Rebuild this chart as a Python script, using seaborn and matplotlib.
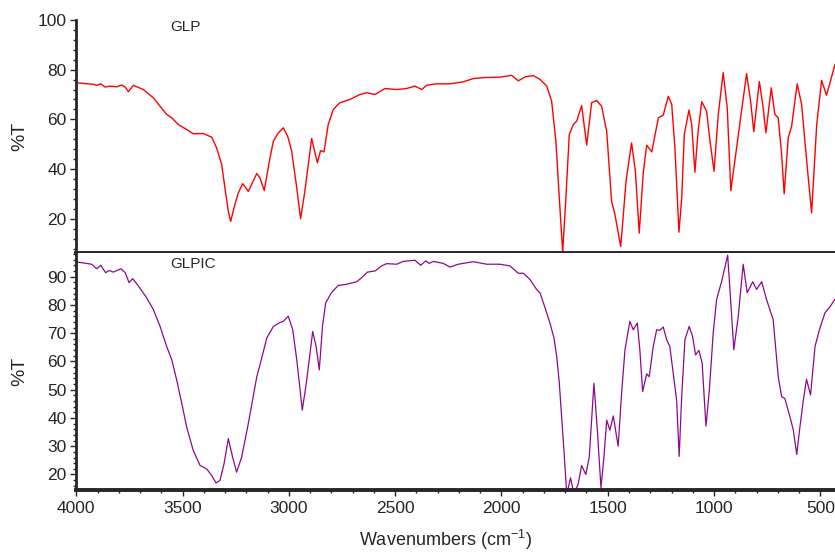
import numpy as np
import pandas as pd
import matplotlib
matplotlib.use('Agg')
import matplotlib.pyplot as plt
from matplotlib.ticker import MultipleLocator
import seaborn as sns

# GLP spectrum (top panel)
glp_wn = [3998, 3920, 3904, 3885, 3865, 3842, 3810, 3786, 3770, 3755, 3732, 3685, 3638, 3606,
          3575, 3551, 3520, 3481, 3450, 3403, 3363, 3340, 3316, 3301, 3285, 3274, 3254, 3238,
          3217, 3191, 3151, 3136, 3116, 3089, 3073, 3050, 3026, 3005, 2987, 2963, 2945, 2925,
          2893, 2866, 2851, 2835, 2815, 2791, 2760, 2713, 2666, 2634, 2595, 2548, 2493, 2446,
          2407, 2375, 2352, 2305, 2242, 2180, 2133, 2086, 2007, 1952, 1921, 1889, 1850, 1819,
          1787, 1764, 1744, 1728, 1712, 1697, 1681, 1662, 1646, 1623, 1599, 1576, 1552, 1529,
          1505, 1482, 1466, 1439, 1414, 1388, 1370, 1352, 1333, 1317, 1293, 1262, 1239, 1215,
          1199, 1184, 1165, 1152, 1140, 1118, 1105, 1090, 1075, 1058, 1035, 1019, 1000, 980,
          957, 938, 921, 894, 847, 828, 813, 787, 771, 756, 731, 714, 698, 682, 670, 651, 635,
          609, 588, 564, 541, 517, 494, 471, 431]
glp_t = [74.7, 74.1, 73.7, 74.3, 73.0, 73.4, 73.1, 73.8, 73.0, 71.1, 73.7, 72.0, 68.7, 65.3,
         62.0, 60.6, 57.9, 55.9, 54.2, 54.3, 52.8, 48.5, 41.8, 32.4, 23.0, 18.9, 25.7, 30.4,
         34.1, 31.0, 38.2, 36.4, 31.3, 44.5, 51.2, 54.5, 56.6, 53.0, 47.2, 32.4, 20.0, 31.0,
         52.3, 42.5, 47.4, 46.9, 57.9, 64.0, 66.7, 68.0, 70.0, 70.7, 70.0, 72.4, 72.0, 72.4,
         73.4, 72.0, 73.7, 74.3, 74.3, 75.1, 76.4, 76.8, 77.0, 77.7, 75.5, 77.1, 77.6, 76.1,
         73.4, 67.3, 51.2, 28.4, 6.6, 28.4, 53.9, 57.9, 59.3, 65.6, 49.6, 66.7, 67.6, 65.3,
         55.2, 27.0, 21.6, 8.8, 35.1, 50.5, 39.1, 14.2, 38.5, 49.6, 46.9, 60.6, 61.7, 69.3,
         66.0, 48.5, 14.6, 28.4, 53.9, 63.7, 57.9, 38.7, 55.2, 67.1, 63.3, 51.2, 39.1, 62.0,
         78.8, 64.7, 31.3, 48.5, 78.4, 67.3, 55.0, 75.2, 66.0, 54.6, 72.7, 62.0, 60.6, 45.8,
         30.0, 52.6, 57.2, 74.3, 66.0, 43.1, 22.3, 57.9, 75.7, 69.7, 82.1]

# GLPIC spectrum (bottom panel)
glpic_wn = [3998, 3928, 3904, 3885, 3862, 3845, 3826, 3790, 3770, 3752, 3735, 3708, 3669, 3638,
            3606, 3575, 3551, 3528, 3504, 3481, 3450, 3418, 3387, 3363, 3343, 3324, 3305, 3285,
            3265, 3246, 3222, 3191, 3151, 3136, 3104, 3073, 3041, 3026, 3003, 2982, 2963, 2937,
            2918, 2888, 2872, 2857, 2842, 2827, 2800, 2768, 2729, 2681, 2658, 2631, 2595, 2564,
            2540, 2493, 2462, 2407, 2380, 2356, 2340, 2320, 2274, 2242, 2203, 2133, 2070, 2007,
            1960, 1921, 1897, 1866, 1835, 1819, 1795, 1772, 1753, 1740, 1728, 1717, 1706, 1693,
            1675, 1659, 1639, 1623, 1603, 1587, 1565, 1549, 1532, 1518, 1505, 1490, 1474, 1451,
            1435, 1419, 1396, 1380, 1361, 1349, 1336, 1317, 1305, 1286, 1270, 1255, 1239, 1223,
            1208, 1192, 1176, 1164, 1153, 1137, 1117, 1101, 1087, 1071, 1056, 1038, 1022, 1004,
            988, 964, 936, 922, 907, 886, 863, 844, 818, 800, 776, 753, 722, 698, 682, 667, 643,
            627, 611, 596, 580, 565, 546, 525, 502, 478, 455, 431]
glpic_t = [95.2, 94.4, 92.8, 94.0, 91.4, 92.2, 91.6, 92.8, 91.4, 87.9, 89.3, 86.7, 82.5, 78.4,
           72.4, 65.3, 60.6, 53.5, 45.2, 36.8, 28.5, 23.2, 22.0, 19.6, 17.0, 17.9, 23.8, 32.7,
           26.2, 20.8, 26.2, 38.0, 54.6, 58.8, 68.3, 72.4, 73.8, 74.2, 76.0, 71.2, 60.6, 42.8,
           52.3, 70.6, 65.3, 57.0, 72.4, 80.7, 84.3, 86.9, 87.3, 88.2, 89.6, 91.6, 92.0, 93.8,
           94.6, 94.4, 95.4, 95.8, 94.0, 95.6, 94.7, 95.4, 94.7, 93.4, 94.4, 95.3, 94.4, 94.4,
           93.8, 91.2, 91.2, 89.0, 85.5, 84.3, 79.0, 73.6, 68.3, 61.7, 52.3, 40.4, 28.5, 13.0,
           18.8, 13.0, 16.7, 23.2, 20.0, 26.2, 52.3, 35.7, 15.3, 26.2, 39.2, 35.7, 40.7, 30.0,
           48.7, 64.1, 74.2, 71.2, 73.6, 64.1, 49.3, 55.6, 54.6, 65.3, 71.2, 71.0, 72.2, 67.7,
           65.3, 55.8, 46.3, 26.4, 46.3, 67.7, 72.4, 68.9, 62.3, 63.9, 59.4, 37.1, 49.9, 70.0,
           81.9, 88.4, 97.6, 81.9, 64.1, 76.0, 94.4, 84.3, 88.2, 85.5, 88.2, 81.9, 74.8, 54.6,
           47.5, 46.9, 40.4, 35.7, 27.1, 36.8, 46.3, 53.7, 48.1, 65.3, 71.8, 77.2, 79.3, 82.0]

df_glp = pd.DataFrame({'wn': glp_wn, 't': glp_t})
df_glpic = pd.DataFrame({'wn': glpic_wn, 't': glpic_t})

sns.set_style('ticks')
plt.rcParams['font.family'] = ['Liberation Sans', 'DejaVu Sans']
plt.rcParams['mathtext.fontset'] = 'custom'
plt.rcParams['mathtext.rm'] = 'Liberation Sans'

fig = plt.figure(figsize=(8.35, 5.52), dpi=100)
ax1 = fig.add_axes([0.0914, 0.5408, 0.9086, 0.4230])
ax2 = fig.add_axes([0.0914, 0.1123, 0.9086, 0.4285])

sns.lineplot(data=df_glp, x='wn', y='t', ax=ax1, color='#ff0000', linewidth=1.0)
sns.lineplot(data=df_glpic, x='wn', y='t', ax=ax2, color='#8b0a8b', linewidth=0.9)

for ax in (ax1, ax2):
    ax.set_xlim(4000, 431)
    ax.spines['top'].set_visible(False)
    ax.spines['right'].set_visible(False)
    ax.spines['left'].set_linewidth(2)
    ax.spines['bottom'].set_linewidth(2.8)
    ax.set_xlabel('')
    ax.tick_params(axis='y', which='major', direction='out', length=4, width=1, labelsize=12.5, pad=3)
    ax.tick_params(axis='y', which='minor', direction='out', length=2, width=1)

ax1.set_ylim(6, 100)
ax1.yaxis.set_minor_locator(MultipleLocator(4))
ax1.set_yticks([20, 40, 60, 80, 100])
ax1.tick_params(axis='x', which='both', bottom=False, labelbottom=False)
ax1.set_ylabel('%T', fontsize=14)
ax1.yaxis.set_label_coords(-0.064, 0.5)
ax1.text(3489, 97, 'GLP', fontsize=11, ha='center', va='center')

ax2.set_ylim(14.5, 98.2)
ax2.set_yticks([20, 30, 40, 50, 60, 70, 80, 90])
ax2.yaxis.set_minor_locator(MultipleLocator(2))
ax2.set_xticks([4000, 3500, 3000, 2500, 2000, 1500, 1000, 500])
ax2.xaxis.set_minor_locator(MultipleLocator(100))
ax2.tick_params(axis='x', which='major', direction='out', length=4, width=1, labelsize=12.5, pad=4)
ax2.tick_params(axis='x', which='minor', direction='out', length=2, width=1)
ax2.set_ylabel('%T', fontsize=14)
ax2.yaxis.set_label_coords(-0.064, 0.5)
ax2.set_xlabel('Wavenumbers (cm$^{\\mathregular{-1}}$)', fontsize=13)
ax2.xaxis.set_label_coords(0.486, -0.16)
ax2.text(3451, 94.4, 'GLPIC', fontsize=11, ha='center', va='center')

fig.savefig('out.png', dpi=100)
